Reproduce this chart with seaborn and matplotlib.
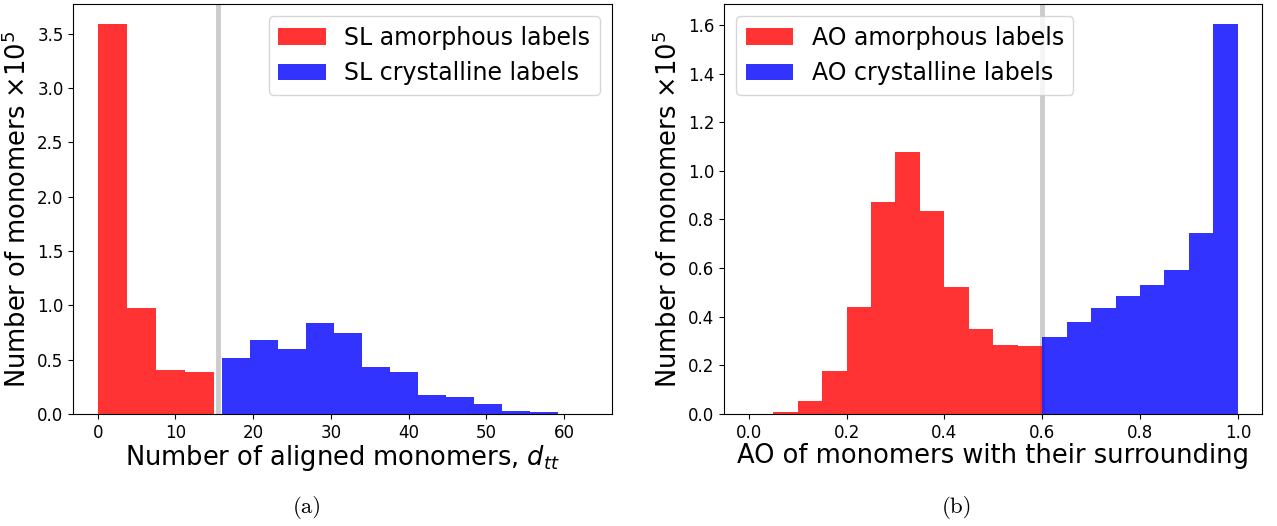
import numpy as np
import matplotlib
matplotlib.use('Agg')
import matplotlib.pyplot as plt
import seaborn as sns

plt.rcParams['font.family'] = ['DejaVu Sans']
plt.rcParams['mathtext.fontset'] = 'dejavusans'

# panel (a): SL labels, counts in units of 1e5
sl_amorph_edges = [0.0, 3.75, 7.5, 11.25, 15.0]
sl_amorph_counts = [3.59, 0.975, 0.405, 0.383]
sl_cryst_edges = [16.0, 19.6, 23.2, 26.8, 30.4, 34.0, 37.6, 41.2, 44.8, 48.4, 52.0, 55.6, 59.2]
sl_cryst_counts = [0.515, 0.68, 0.598, 0.834, 0.748, 0.43, 0.39, 0.175, 0.156, 0.092, 0.028, 0.015]
sl_threshold = 15.45

# panel (b): AO labels, counts in units of 1e5
ao_amorph_edges = [0.05, 0.1, 0.15, 0.2, 0.25, 0.3, 0.35, 0.4, 0.45, 0.5, 0.55, 0.6]
ao_amorph_counts = [0.008, 0.055, 0.178, 0.441, 0.87, 1.076, 0.836, 0.524, 0.348, 0.285, 0.28]
ao_cryst_edges = [0.6, 0.65, 0.7, 0.75, 0.8, 0.85, 0.9, 0.95, 1.0]
ao_cryst_counts = [0.315, 0.377, 0.435, 0.487, 0.529, 0.592, 0.743, 1.604]
ao_threshold = 0.6


def centers(edges):
    e = np.asarray(edges)
    return (e[:-1] + e[1:]) / 2


def draw_hist(ax, edges, counts, color, label):
    sns.histplot(x=centers(edges), weights=counts, bins=edges, color=color,
                 alpha=0.8, linewidth=0, ax=ax, label=label)


fig = plt.figure(figsize=(12.77, 5.26), dpi=100)
ax1 = fig.add_axes([0.0574, 0.2129, 0.4216, 0.779])
ax2 = fig.add_axes([0.5672, 0.2129, 0.4213, 0.779])

label_fs = 18.5
legend_fs = 17

# (a)
ax1.axvline(sl_threshold, color='#cccccc', lw=3.5, zorder=0)
draw_hist(ax1, sl_amorph_edges, sl_amorph_counts, 'red', 'SL amorphous labels')
draw_hist(ax1, sl_cryst_edges, sl_cryst_counts, 'blue', 'SL crystalline labels')
ax1.set_xlim(-3.15, 66.15)
ax1.set_ylim(0, 3.77)
ax1.set_xticks([0, 10, 20, 30, 40, 50, 60])
ax1.set_xlabel(r'Number of aligned monomers, $d_{tt}$', fontsize=label_fs, labelpad=1)
ax1.set_ylabel(r'Number of monomers $\times 10^5$', fontsize=label_fs)
ax1.legend(loc='upper right', fontsize=legend_fs)

# (b)
ax2.axvline(ao_threshold, color='#cccccc', lw=3.5, zorder=0)
draw_hist(ax2, ao_amorph_edges, ao_amorph_counts, 'red', 'AO amorphous labels')
draw_hist(ax2, ao_cryst_edges, ao_cryst_counts, 'blue', 'AO crystalline labels')
ax2.set_xlim(-0.05, 1.05)
ax2.set_ylim(0, 1.685)
ax2.set_xticks([0.0, 0.2, 0.4, 0.6, 0.8, 1.0])
ax2.set_yticks([0.0, 0.2, 0.4, 0.6, 0.8, 1.0, 1.2, 1.4, 1.6])
ax2.set_xlabel('AO of monomers with their surrounding', fontsize=label_fs, labelpad=1)
ax2.set_ylabel(r'Number of monomers $\times 10^5$', fontsize=label_fs)
ax2.legend(loc='upper left', fontsize=legend_fs)

for ax in (ax1, ax2):
    ax.tick_params(labelsize=12)

fig.text(307 / 1277, 0.036, '(a)', fontsize=16.5, family='cmr10', ha='center', va='center')
fig.text(957 / 1277, 0.036, '(b)', fontsize=16.5, family='cmr10', ha='center', va='center')

fig.savefig('out.png', dpi=100)
